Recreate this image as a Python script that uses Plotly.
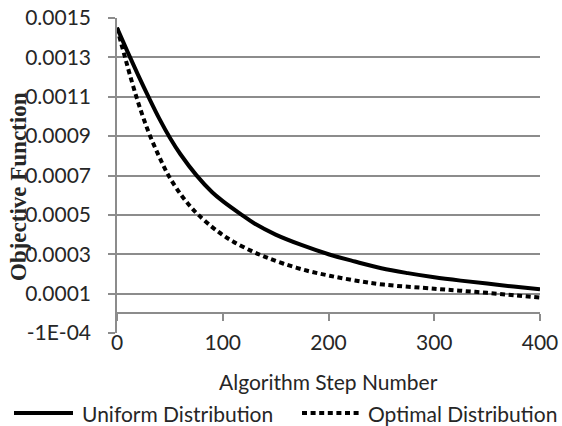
import plotly.graph_objects as go

steps_uniform = [0, 10, 20, 30, 40, 50, 60, 75, 90, 100, 118, 130, 150, 175, 200, 225, 250, 275, 300,
                 325, 350, 375, 400]
uniform = [0.00145, 0.001328, 0.00121, 0.001097, 0.000989, 0.000892, 0.000808, 0.000702, 0.000615,
           0.00057, 0.0005, 0.000456, 0.0004, 0.000346, 0.0003, 0.000263, 0.000229, 0.000204, 0.000183,
           0.000166, 0.000151, 0.000136, 0.000122]

steps_optimal = [0, 4, 8, 12, 18, 24, 31, 40, 48.5, 60, 70, 77, 90, 100, 110, 127, 140, 157, 180, 201,
                 225, 252, 300, 324, 350, 375, 400]
optimal = [0.00145, 0.00137, 0.001292, 0.001215, 0.001105, 0.001007, 0.000905, 0.000794, 0.000702,
           0.000606, 0.000539, 0.0005, 0.000438, 0.000398, 0.000364, 0.000317, 0.000287, 0.000253,
           0.000216, 0.000191, 0.000167, 0.000146, 0.000125, 0.000115, 0.000104, 0.000092, 0.00008]

series_names = ["Uniform Distribution", "Optimal Distribution"]
y_ticks = [-0.0001, 0.0001, 0.0003, 0.0005, 0.0007, 0.0009, 0.0011, 0.0013, 0.0015]
y_tick_labels = ["-1E-04", "0.0001", "0.0003", "0.0005", "0.0007", "0.0009", "0.0011", "0.0013", "0.0015"]
x_ticks = [0, 100, 200, 300, 400]

TXT = "#262626"
GRID = "#8c8c8c"
FONT = "Lato"
DOT = "5px,3.6px"

# plot area in pixels (for paper-coordinate placement of non-data elements)
L, R, T, B = 117, 540, 18, 333
W, H = R - L, B - T


def px(x):
    return (x - L) / W


def py(y):
    return (B - y) / H


fig = go.Figure()
fig.add_trace(go.Scatter(x=steps_uniform, y=uniform, mode="lines", name=series_names[0],
                         line=dict(color="black", width=4, shape="spline", smoothing=1),
                         showlegend=False))
fig.add_trace(go.Scatter(x=steps_optimal, y=optimal, mode="lines", name=series_names[1],
                         line=dict(color="black", width=4, dash=DOT, shape="spline", smoothing=1),
                         showlegend=False))

fig.update_layout(
    width=562, height=426,
    margin=dict(l=L, r=562 - R, t=T, b=426 - B),
    paper_bgcolor="white", plot_bgcolor="white",
    font=dict(family=FONT, size=21, color=TXT),
    showlegend=False,
    xaxis=dict(range=[0, 400], tickvals=x_ticks, showgrid=False, zeroline=False,
               showline=True, linecolor=GRID, linewidth=1.5,
               ticks="outside", ticklen=7, tickcolor=GRID, tickwidth=1.5,
               anchor="free", position=0.0625, ticklabelstandoff=4, automargin=False,
               tickfont=dict(size=21, color=TXT)),
    yaxis=dict(range=[-0.0001, 0.0015], tickvals=y_ticks, ticktext=y_tick_labels,
               showgrid=True, gridcolor=GRID, gridwidth=1.5, zeroline=False,
               showline=True, linecolor=GRID, linewidth=1.5, automargin=False,
               ticks="outside", ticklen=7, tickcolor=GRID, tickwidth=1.5,
               ticklabelstandoff=13, tickfont=dict(size=21, color=TXT)),
)

fig.add_annotation(text="<b>Objective Function</b>", textangle=-90, xref="paper", yref="paper",
                   x=px(18), y=py(187), xanchor="center", yanchor="middle", showarrow=False,
                   font=dict(family="Liberation Serif", size=23, color=TXT))
fig.add_annotation(text="Algorithm Step Number", xref="paper", yref="paper",
                   x=0.5, y=py(382), xanchor="center", yanchor="middle", showarrow=False,
                   font=dict(family=FONT, size=21, color=TXT))

# manual legend
leg_y = 413
legend_items = [(14, 73, 80, "solid"), (302, 362, 366, DOT)]
for name, (x0, x1, xt, dash) in zip(series_names, legend_items):
    fig.add_shape(type="line", xref="paper", yref="paper", x0=px(x0), x1=px(x1),
                  y0=py(leg_y), y1=py(leg_y), line=dict(color="black", width=4, dash=dash))
    fig.add_annotation(text=name, xref="paper", yref="paper", x=px(xt), y=py(leg_y),
                       xanchor="left", yanchor="middle", showarrow=False,
                       font=dict(family=FONT, size=21, color=TXT))

fig.write_html("out.html")
